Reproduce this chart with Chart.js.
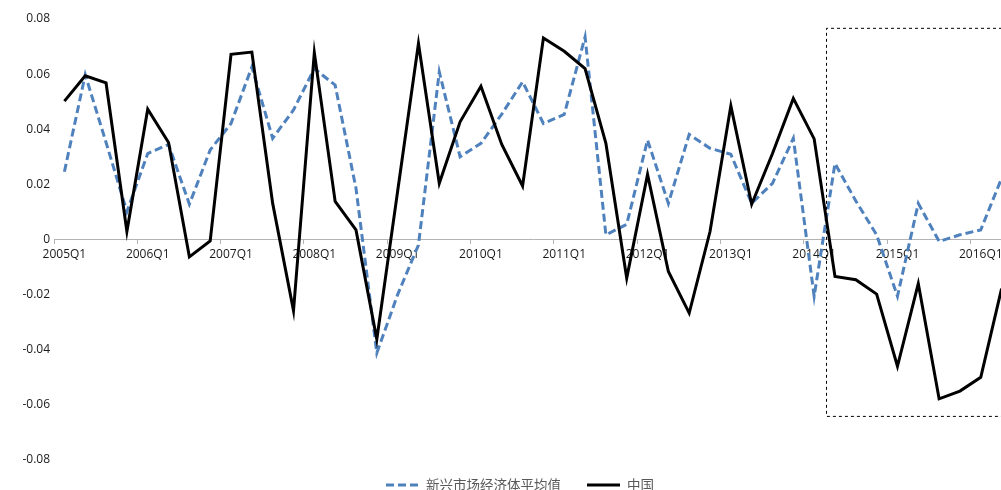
<!DOCTYPE html>
<html lang="zh">
<head>
  <meta charset="UTF-8">
  <title>新兴市场经济体平均值 vs 中国</title>
  <script src="https://cdn.jsdelivr.net/npm/chart.js"></script>
  <style>
    html, body {
      margin: 0;
      padding: 0;
      background: #ffffff;
      overflow: hidden;
    }
    #wrap {
      position: relative;
      width: 1012px;
      height: 490px;
    }
  </style>
</head>
<body>
  <div id="wrap">
    <canvas id="chart"></canvas>
  </div>

  <script>
    // 季度
    const quarters = [
      '2005Q1', '2005Q2', '2005Q3', '2005Q4',
      '2006Q1', '2006Q2', '2006Q3', '2006Q4',
      '2007Q1', '2007Q2', '2007Q3', '2007Q4',
      '2008Q1', '2008Q2', '2008Q3', '2008Q4',
      '2009Q1', '2009Q2', '2009Q3', '2009Q4',
      '2010Q1', '2010Q2', '2010Q3', '2010Q4',
      '2011Q1', '2011Q2', '2011Q3', '2011Q4',
      '2012Q1', '2012Q2', '2012Q3', '2012Q4',
      '2013Q1', '2013Q2', '2013Q3', '2013Q4',
      '2014Q1', '2014Q2', '2014Q3', '2014Q4',
      '2015Q1', '2015Q2', '2015Q3', '2015Q4',
      '2016Q1', '2016Q2'
    ];

    // 新兴市场经济体平均值
    const emAverage = [
      0.0246, 0.0598, 0.0352, 0.0101,
      0.0312, 0.0345, 0.0128, 0.0325,
      0.0421, 0.0626, 0.0367, 0.0470,
      0.0620, 0.0560, 0.0186, -0.0412,
      -0.0200, -0.0020, 0.0608, 0.0300,
      0.0349, 0.0455, 0.0572, 0.0421,
      0.0454, 0.0735, 0.0017, 0.0055,
      0.0361, 0.0131, 0.0381, 0.0331,
      0.0309, 0.0131, 0.0204, 0.0367,
      -0.0206, 0.0276, 0.0140, 0.0017,
      -0.0206, 0.0131, -0.0007, 0.0017,
      0.0035, 0.0222
    ];

    // 中国
    const china = [
      0.0502, 0.0594, 0.0568, 0.0029,
      0.0473, 0.0352, -0.0063, -0.0005,
      0.0672, 0.0680, 0.0131, -0.0258,
      0.0678, 0.0138, 0.0035, -0.0362,
      0.0175, 0.0711, 0.0204, 0.0427,
      0.0556, 0.0345, 0.0194, 0.0731,
      0.0683, 0.0620, 0.0349, -0.0140,
      0.0236, -0.0116, -0.0267, 0.0029,
      0.0485, 0.0128, 0.0312, 0.0512,
      0.0365, -0.0134, -0.0146, -0.0198,
      -0.0460, -0.0160, -0.0578, -0.0550,
      -0.0500, -0.0178
    ];

    const yTicks = { min: -0.08, max: 0.08, step: 0.02 };

    // 虚线框（以类目序号和数值表示）
    const highlight = { fromIndex: 36.55, top: 0.0768, bottom: -0.064 };

    const highlightBox = {
      id: 'highlightBox',
      afterDatasetsDraw(chart) {
        const { ctx, scales: { x, y }, chartArea } = chart;
        const left = x.getPixelForValue(highlight.fromIndex);
        const top = y.getPixelForValue(highlight.top);
        const bottom = y.getPixelForValue(highlight.bottom);
        const right = chartArea.right + 20;
        ctx.save();
        ctx.strokeStyle = '#000000';
        ctx.lineWidth = 1;
        ctx.setLineDash([3, 3]);
        ctx.beginPath();
        ctx.moveTo(right, top + 0.5);
        ctx.lineTo(Math.round(left) + 0.5, top + 0.5);
        ctx.lineTo(Math.round(left) + 0.5, bottom + 0.5);
        ctx.lineTo(right, bottom + 0.5);
        ctx.stroke();
        ctx.restore();
      }
    };

    // 底部图例
    const bottomLegend = {
      id: 'bottomLegend',
      afterDraw(chart) {
        const { ctx } = chart;
        const lineLen = 33, gapText = 7, gapItem = 26;
        const cy = 485;
        ctx.save();
        ctx.font = '13.5px "Noto Sans CJK SC", sans-serif';
        ctx.textBaseline = 'middle';
        const items = chart.data.datasets.map(ds => ({
          text: ds.label,
          color: ds.borderColor,
          dash: ds.borderDash || [],
          w: ctx.measureText(ds.label).width
        }));
        const total = items.reduce((s, it) => s + lineLen + gapText + it.w, 0) + gapItem * (items.length - 1);
        let xPos = 520 - total / 2;
        items.forEach(it => {
          ctx.strokeStyle = it.color;
          ctx.lineWidth = 3;
          ctx.setLineDash(it.dash);
          ctx.beginPath();
          ctx.moveTo(xPos, cy);
          ctx.lineTo(xPos + lineLen, cy);
          ctx.stroke();
          ctx.setLineDash([]);
          ctx.fillStyle = '#595959';
          ctx.fillText(it.text, xPos + lineLen + gapText, cy);
          xPos += lineLen + gapText + it.w + gapItem;
        });
        ctx.restore();
      }
    };

    const ctx = document.getElementById('chart').getContext('2d');
    const chart = new Chart(ctx, {
      type: 'line',
      data: {
        labels: quarters,
        datasets: [
          {
            label: '新兴市场经济体平均值',
            data: emAverage,
            borderColor: '#4f81bd',
            borderWidth: 3,
            borderDash: [8, 4],
            pointRadius: 0,
            tension: 0,
            fill: false,
            order: 1
          },
          {
            label: '中国',
            data: china,
            borderColor: '#000000',
            borderWidth: 3,
            pointRadius: 0,
            tension: 0,
            fill: false,
            order: 0
          }
        ]
      },
      options: {
        responsive: true,
        maintainAspectRatio: false,
        animation: false,
        layout: { padding: { top: 19, right: 0, bottom: 30, left: 0 } },
        plugins: {
          legend: { display: false },
          tooltip: { enabled: false }
        },
        scales: {
          x: {
            type: 'category',
            position: { y: 0 },
            offset: true,
            border: { display: true, color: '#b3b3b3', width: 1 },
            grid: {
              offset: true,
              drawOnChartArea: false,
              drawTicks: true,
              tickLength: 4,
              tickColor: c => (c.index % 4 === 0 ? '#b3b3b3' : 'rgba(0,0,0,0)')
            },
            ticks: {
              autoSkip: false,
              maxRotation: 0,
              minRotation: 0,
              padding: 4,
              color: '#1a1a1a',
              font: { family: '"Open Sans", sans-serif', size: 12 },
              callback: function (value, index) {
                return index % 4 === 0 ? this.getLabelForValue(value) : '';
              }
            }
          },
          y: {
            min: yTicks.min,
            max: yTicks.max,
            border: { display: false },
            grid: { display: false, drawTicks: false },
            ticks: {
              stepSize: yTicks.step,
              padding: 4,
              color: '#1a1a1a',
              font: { family: '"Open Sans", sans-serif', size: 12 }
            },
            afterFit(scale) { scale.width = 54; }
          }
        }
      },
      plugins: [highlightBox, bottomLegend]
    });
  </script>
</body>
</html>
